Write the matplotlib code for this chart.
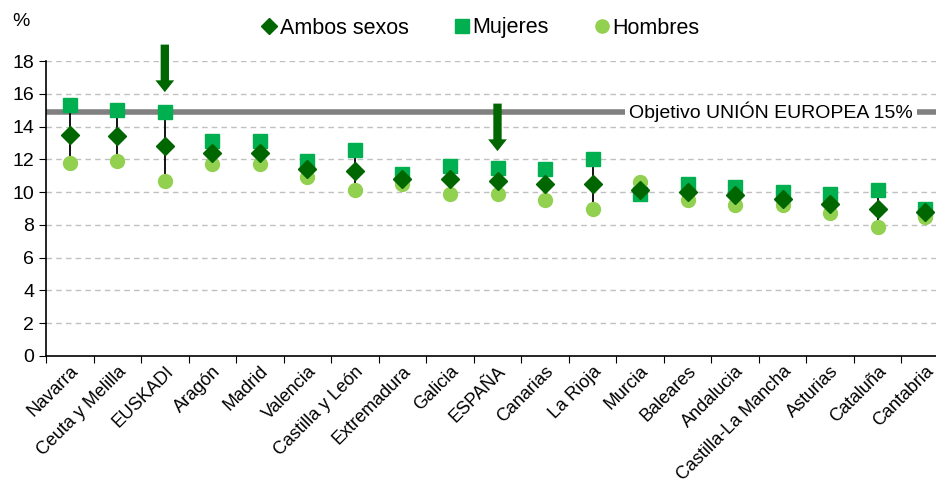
import numpy as np
import matplotlib.pyplot as plt
from matplotlib.lines import Line2D

plt.rcParams['font.family'] = ['Liberation Sans', 'DejaVu Sans']

regiones = ['Navarra', 'Ceuta y Melilla', 'EUSKADI', 'Aragón', 'Madrid', 'Valencia',
            'Castilla y León', 'Extremadura', 'Galicia', 'ESPAÑA', 'Canarias', 'La Rioja',
            'Murcia', 'Baleares', 'Andalucia', 'Castilla-La Mancha', 'Asturias',
            'Cataluña', 'Cantabria']
ambos = [13.5, 13.4, 12.8, 12.4, 12.4, 11.4, 11.3, 10.8, 10.8, 10.7, 10.5, 10.5,
         10.1, 10.0, 9.8, 9.6, 9.3, 9.0, 8.8]
mujeres = [15.3, 15.0, 14.9, 13.1, 13.1, 11.9, 12.6, 11.1, 11.6, 11.5, 11.4, 12.0,
           9.9, 10.5, 10.3, 10.0, 9.9, 10.1, 9.0]
hombres = [11.8, 11.9, 10.7, 11.7, 11.7, 10.9, 10.1, 10.5, 9.9, 9.9, 9.5, 9.0,
           10.6, 9.5, 9.2, 9.2, 8.7, 7.9, 8.5]
objetivo = 15

c_ambos = '#006600'
c_muj = '#00B050'
c_hom = '#92D050'

fig = plt.figure(figsize=(9.36, 4.88), dpi=100)
ax = fig.add_axes([46 / 936, (488 - 356) / 488, (949 - 46) / 936, (356 - 61) / 488])

x = np.arange(len(regiones))
lo = np.minimum(np.minimum(mujeres, hombres), ambos)
hi = np.maximum(np.maximum(mujeres, hombres), ambos)

ax.set_ylim(0, 18)
ax.set_xlim(-0.5, len(regiones) - 0.5)
ax.set_yticks(range(0, 19, 2))
for yv in range(2, 19, 2):
    ax.axhline(yv, color='#c0c0c0', lw=1, ls=(0, (4, 3)), zorder=0)

# objetivo UE
ax.axhline(objetivo - 0.1, color='#808080', lw=4, zorder=1)
ax.text(14.75, objetivo - 0.1, 'Objetivo UNIÓN EUROPEA 15%', fontsize=14, va='center', ha='center',
        bbox=dict(facecolor='white', edgecolor='none', pad=3), zorder=2)

# lineas max-min
ax.vlines(x, lo, hi, color='black', lw=1.3, zorder=3)

ax.plot(x, mujeres, ls='none', marker='s', ms=10, color=c_muj, zorder=4)
ax.plot(x, hombres, ls='none', marker='o', ms=10, color=c_hom, zorder=5)
ax.plot(x, ambos, ls='none', marker='D', ms=9, color=c_ambos, zorder=6)

# flechas
for i, (y0, y1) in [(2, (19.0, 16.1)), (9, (15.4, 12.5))]:
    ax.annotate('', xy=(i, y1), xytext=(i, y0), annotation_clip=False,
                arrowprops=dict(arrowstyle='simple,head_width=1.35,head_length=0.85,tail_width=0.6',
                                mutation_scale=10, shrinkA=0, shrinkB=0,
                                color=c_ambos, lw=0), zorder=7)

ax.set_xticks(np.arange(len(regiones) + 1) - 0.5, minor=False)
ax.set_xticklabels([])
ax.set_xticks(x, minor=True)
ax.set_xticklabels(regiones, minor=True, rotation=45, ha='right', rotation_mode='anchor', fontsize=13)
ax.tick_params(axis='x', which='minor', length=0, pad=5)
ax.tick_params(axis='x', which='major', length=5, direction='out')
ax.tick_params(axis='y', labelsize=14, length=5, direction='out')

for s in ['top', 'right']:
    ax.spines[s].set_visible(False)
ax.spines['left'].set_linewidth(1.2)
ax.spines['bottom'].set_linewidth(1.2)

fig.text(12 / 936, 1 - 22 / 488, '%', fontsize=14, va='center')

handles = [Line2D([], [], ls='none', marker='D', ms=8, color=c_ambos),
           Line2D([], [], ls='none', marker='s', ms=9.5, color=c_muj),
           Line2D([], [], ls='none', marker='o', ms=9.5, color=c_hom)]
fig.legend(handles, ['Ambos sexos', 'Mujeres', 'Hombres'], loc='center', ncol=3,
           bbox_to_anchor=(479 / 936, 1 - 28 / 488), frameon=False, fontsize=15.5,
           handletextpad=0.0, columnspacing=1.95, handlelength=1.0)

fig.savefig('out.png', dpi=100)
